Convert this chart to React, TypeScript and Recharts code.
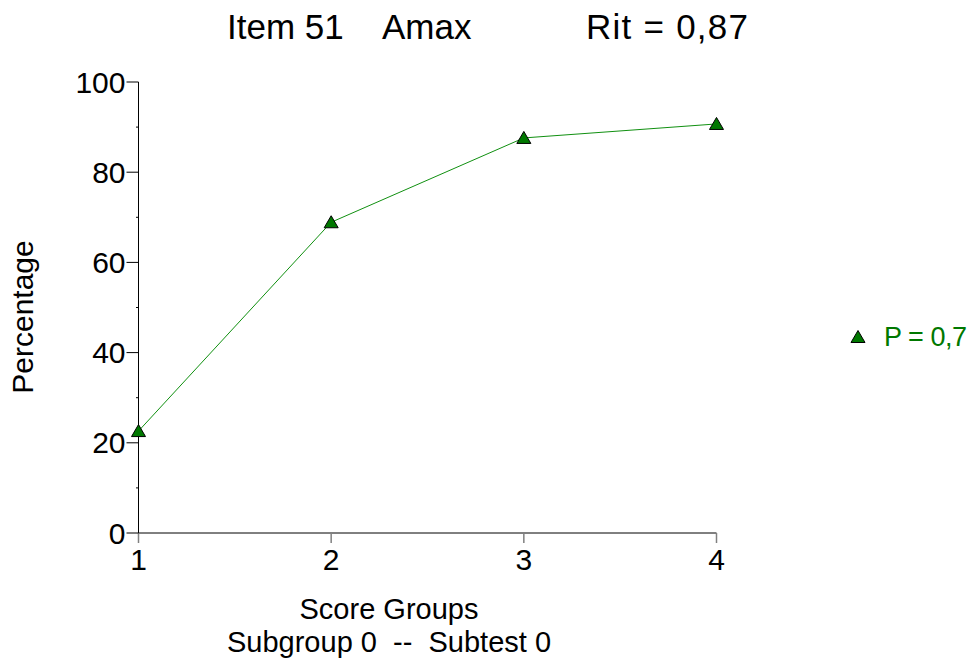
import { LineChart, Line, XAxis, YAxis, Customized } from 'recharts';

const groups = [1, 2, 3, 4];
const percentages = [22.6, 68.9, 87.6, 90.7];
const yTicks = [0, 10, 20, 30, 40, 50, 60, 70, 80, 90, 100];
const seriesName = 'P = 0,7';
const titleParts = ['Item 51', 'Amax', 'Rit = 0,87'];
const xLabelLines = ['Score Groups', 'Subgroup 0  --  Subtest 0'];
const yLabel = 'Percentage';

const FONT = '"Liberation Sans", Arial, sans-serif';
const LINE = '#109010';
const FILL = '#007800';

const data = groups.map((g, i) => ({ group: g, pct: percentages[i] }));

function Triangle({ cx, cy }: { cx?: number; cy?: number }) {
  if (cx == null || cy == null) return null;
  return (
    <polygon
      points={`${cx},${cy - 6.5} ${cx - 7},${cy + 5.5} ${cx + 7},${cy + 5.5}`}
      fill={FILL}
      stroke="#000"
      strokeWidth={1}
    />
  );
}

// major ticks (every 20) get a label, minor ones just a stub
function YTick(props: any) {
  const { x, y, payload } = props;
  const major = payload.value % 20 === 0;
  return (
    <g>
      <line x1={x - (major ? 12 : 2.5)} x2={x} y1={y} y2={y} stroke="#000" strokeWidth={1} />
      {major && (
        <text x={x - 13} y={y} dy="0.355em" textAnchor="end" fontSize={30} fontFamily={FONT} fill="#000">
          {payload.value}
        </text>
      )}
    </g>
  );
}

function Labels() {
  return (
    <g fontFamily={FONT} fill="#000">
      <text y={39} fontSize={35}>
        <tspan x={227}>{titleParts[0]}</tspan>
        <tspan x={382}>{titleParts[1]}</tspan>
      </text>
      <text x={586} y={39} fontSize={35} textLength={162} lengthAdjust="spacing">
        {titleParts[2]}
      </text>
      <text x={389} y={619} fontSize={29} textAnchor="middle">{xLabelLines[0]}</text>
      <text x={389} y={652} fontSize={29} textAnchor="middle" style={{ whiteSpace: 'pre' }}>
        {xLabelLines[1]}
      </text>
      <text x={0} y={0} fontSize={30} textAnchor="middle" transform="translate(33,317) rotate(-90)">
        {yLabel}
      </text>
      {/* legend */}
      <Triangle cx={858} cy={337} />
      <text x={884} y={346} fontSize={27} fill={FILL} textLength={83} lengthAdjust="spacing">
        {seriesName}
      </text>
    </g>
  );
}

export default function App() {
  return (
    <div style={{ position: 'absolute', left: 0, top: 0, width: 975, height: 663, background: '#fff' }}>
      <LineChart
        width={975}
        height={663}
        data={data}
        margin={{ top: 82, right: 258.5, bottom: 0, left: 0 }}
      >
        <XAxis
          dataKey="group"
          type="number"
          domain={[1, 4]}
          ticks={groups}
          height={130}
          axisLine={{ stroke: '#000' }}
          tickLine={{ stroke: '#808080', strokeWidth: 1.5 }}
          tickSize={10}
          tickMargin={6}
          tick={{ fontSize: 30, fontFamily: FONT, fill: '#000' }}
        />
        <YAxis
          type="number"
          domain={[0, 100]}
          ticks={yTicks}
          width={138.5}
          axisLine={{ stroke: '#000' }}
          tickLine={false}
          tickSize={0}
          tickMargin={0}
          tick={<YTick />}
          interval={0}
        />
        <Line
          dataKey="pct"
          name={seriesName}
          stroke={LINE}
          strokeWidth={1}
          dot={<Triangle />}
          isAnimationActive={false}
        />
        <Customized component={<Labels />} />
      </LineChart>
    </div>
  );
}
